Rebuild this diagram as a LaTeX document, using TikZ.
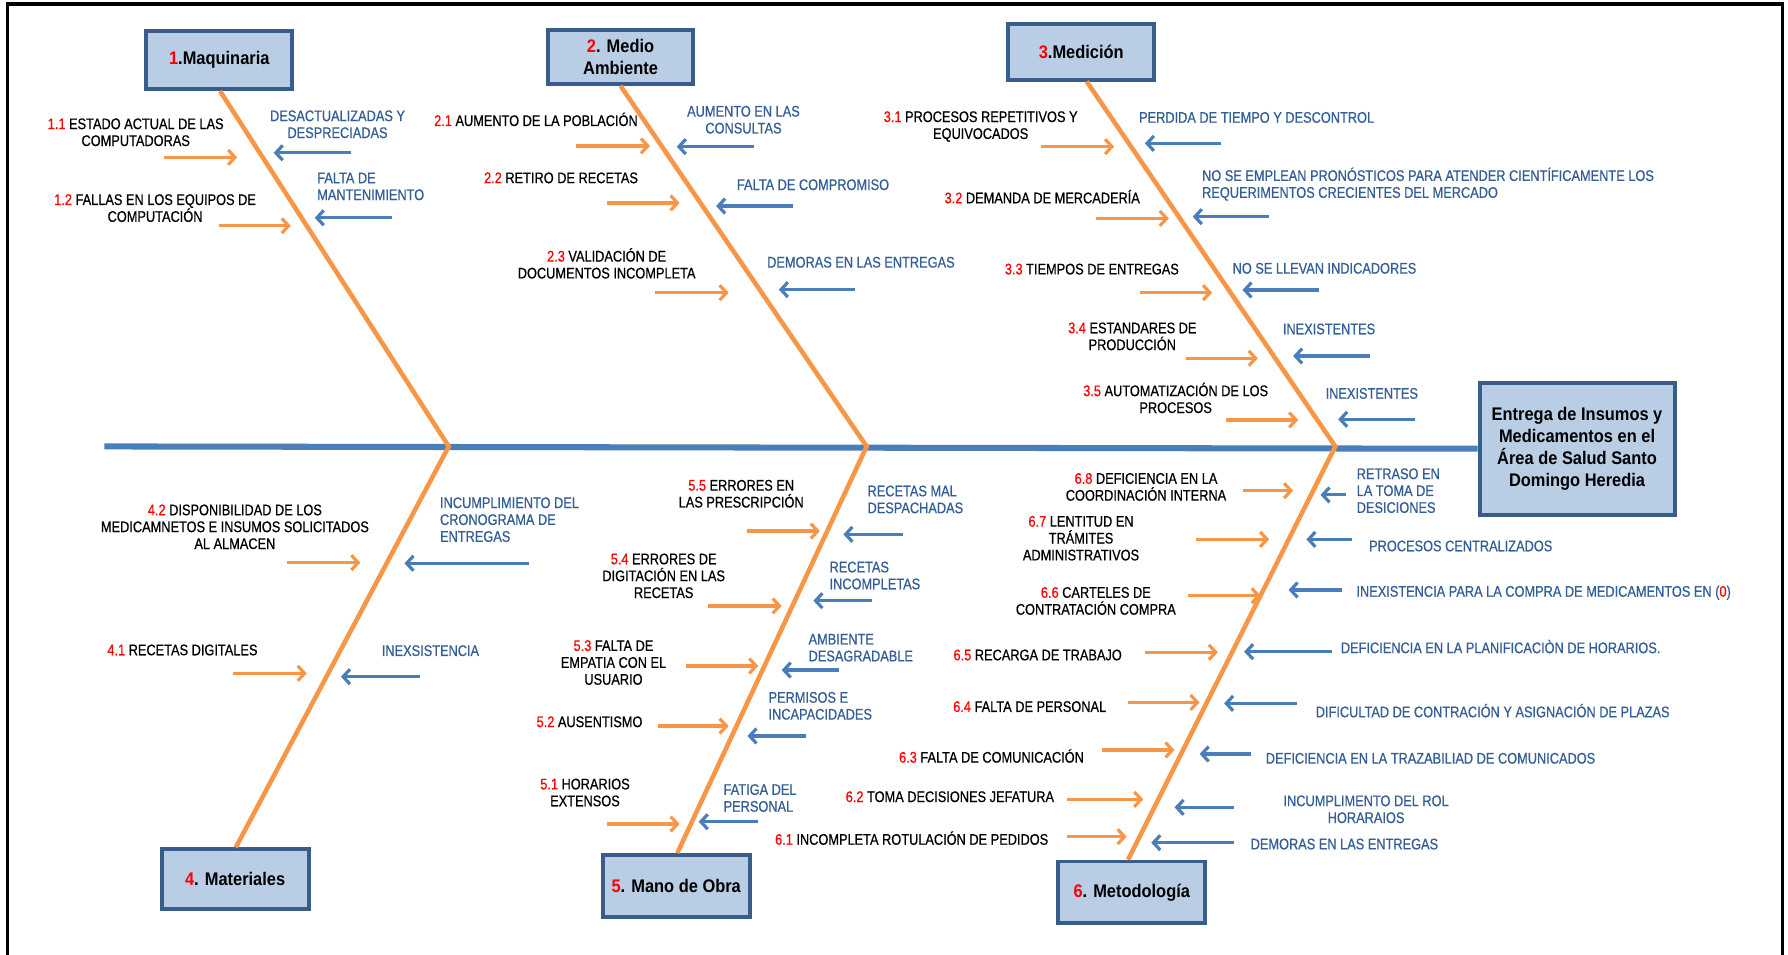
\documentclass[tikz,border=0pt]{standalone}
\usepackage{fontspec}
\usetikzlibrary{arrows.meta,calc}
\newfontfamily\lblfont[FakeStretch=0.83,FakeBold=0.6]{Liberation Sans}
\newfontfamily\hdrfont[FakeStretch=0.9]{Liberation Sans}
\definecolor{bone}{HTML}{F79646}
\definecolor{spine}{HTML}{4A7EBB}
\definecolor{subtxt}{RGB}{52,94,150}
\definecolor{boxfill}{HTML}{B9CDE5}
\definecolor{boxline}{HTML}{385D8A}
\definecolor{numred}{HTML}{FF0000}
\newcommand{\nr}[1]{\textcolor{numred}{#1}}
% cause arrow (orange, pointing right) and sub-cause arrow (blue, pointing left)
\newcommand{\carrow}[4]{\coordinate (#1s) at (#2,#4); \coordinate (#1e) at (#3,#4); \draw[causearrow] (#1s) -- (#1e);}
\newcommand{\sarrow}[4]{\coordinate (#1s) at (#2,#4); \coordinate (#1e) at (#3,#4); \draw[subarrow] (#1s) -- (#1e);}
\begin{document}
\begin{tikzpicture}[x=1pt,y=-1pt,
  cause/.style={font={\lblfont\fontsize{13.5}{14.8}\selectfont}, text=black, inner sep=0pt, align=center},
  sub/.style={cause, text=subtxt},
  subl/.style={sub, align=left, anchor=west},
  catbox/.style={draw=boxline, fill=boxfill, line width=3.4pt, inner sep=2pt, align=center,
    font={\hdrfont\bfseries\fontsize{16}{19.5}\selectfont}},
  bonestyle/.style={draw=bone, line width=4pt},
  spinestyle/.style={draw=spine, line width=5.3pt},
  causearrow/.style={draw=bone, line width=2.8pt, -{Straight Barb[length=6pt,width=13pt]}},
  subarrow/.style={draw=spine, line width=2.8pt, -{Straight Barb[length=6pt,width=13pt]}}]
\useasboundingbox (0,0) rectangle (1568,837);
\fill[white] (0,0) rectangle (1568,837);
% outer frame
\draw[line width=3pt] (6.7,3.5) rectangle (1563,900);

% category boxes and effect box
\node[catbox, minimum width=128pt, minimum height=51pt] (m1) at (192.3,52.7) {\nr{1}.Maquinaria};
\node[catbox, minimum width=127pt, minimum height=47pt] (m2) at (544.2,50.1) {\nr{2}. Medio\\Ambiente};
\node[catbox, minimum width=128pt, minimum height=49pt] (m3) at (948.2,45.3) {\nr{3}.Medición};
\node[catbox, minimum width=129pt, minimum height=52pt] (m4) at (206.2,770.8) {\nr{4}. Materiales};
\node[catbox, minimum width=129pt, minimum height=54pt] (m5) at (593,776.8) {\nr{5}. Mano de Obra};
\node[catbox, minimum width=129pt, minimum height=54pt] (m6) at (992.5,782.5) {\nr{6}. Metodología};
\node[catbox, minimum width=171pt, minimum height=116pt] (eff) at (1383,393.5)
  {Entrega de Insumos y\\Medicamentos en el\\Área de Salud Santo\\Domingo Heredia};

% spine and bones
\coordinate (sl) at (91.5,391.5);
\coordinate (j1) at (393.5,391.5);
\coordinate (j2) at (760,391.5);
\coordinate (j3) at (1171,391.5);
\draw[spinestyle] (sl) -- (eff.west);
\draw[bonestyle] ($(m1.south)+(0.7,0)$) -- (j1) -- ($(m4.north)+(0.6,0)$);
\draw[bonestyle] (m2.south) -- (j2) -- ($(m5.north)+(1,0)$);
\draw[bonestyle] ($(m3.south)+(4.8,0)$) -- (j3) -- ($(m6.north)+(-3.2,0)$);

% 1. Maquinaria
\node[cause] (c11) at (119,116) {\nr{1.1} ESTADO ACTUAL DE LAS\\COMPUTADORAS};
\node[cause] (c12) at (136,182.5) {\nr{1.2} FALLAS EN LOS EQUIPOS DE\\COMPUTACIÓN};
\node[sub] (s11) at (296,109) {DESACTUALIZADAS Y\\DESPRECIADAS};
\node[subl] (s12) at (278,163.5) {FALTA DE\\MANTENIMIENTO};
\carrow{a11}{144}{208}{138}
\carrow{a12}{192}{255}{198}
\sarrow{b11}{308}{240}{134}
\sarrow{b12}{344}{276}{191}

% 2. Medio Ambiente
\node[cause] (c21) at (470,104.7) {\nr{2.1} AUMENTO DE LA POBLACIÓN};
\node[cause] (c22) at (492,156) {\nr{2.2} RETIRO DE RECETAS};
\node[cause] (c23) at (532,231) {\nr{2.3} VALIDACIÓN DE\\DOCUMENTOS INCOMPLETA};
\node[sub] (s21) at (652,105) {AUMENTO EN LAS\\CONSULTAS};
\node[sub] (s22) at (713,162) {FALTA DE COMPROMISO};
\node[sub] (s23) at (755,230) {DEMORAS EN LAS ENTREGAS};
\carrow{a21}{505}{570}{128}
\carrow{a22}{532}{596}{178}
\carrow{a23}{574.5}{639}{256.7}
\sarrow{b21}{661}{593.5}{128.6}
\sarrow{b22}{695}{628}{180.7}
\sarrow{b23}{750}{683}{254}

% 3. Medición
\node[cause] (c31) at (860,111) {\nr{3.1} PROCESOS REPETITIVOS Y\\EQUIVOCADOS};
\node[cause] (c32) at (914,172.5) {\nr{3.2} DEMANDA DE MERCADERÍA};
\node[cause] (c33) at (957.5,236) {\nr{3.3} TIEMPOS DE ENTREGAS};
\node[cause] (c34) at (993,295) {\nr{3.4} ESTANDARES DE\\PRODUCCIÓN};
\node[cause] (c35) at (1031,349) {\nr{3.5} AUTOMATIZACIÓN DE LOS\\PROCESOS};
\node[sub] (s31) at (1102,103) {PERDIDA DE TIEMPO Y DESCONTROL};
\node[subl] (s32) at (1054,161.5) {NO SE EMPLEAN PRONÓSTICOS PARA ATENDER CIENTÍFICAMENTE LOS\\REQUERIMENTOS CRECIENTES DEL MERCADO};
\node[sub] (s33) at (1161.5,235.3) {NO SE LLEVAN INDICADORES};
\node[sub] (s34) at (1165.5,288.5) {INEXISTENTES};
\node[sub] (s35) at (1203,345) {INEXISTENTES};
\carrow{a31}{913}{977}{128.6}
\carrow{a32}{961}{1025}{191.5}
\carrow{a33}{1000}{1063}{256.7}
\carrow{a34}{1040}{1103}{314.2}
\carrow{a35}{1075}{1138.5}{368.3}
\sarrow{b31}{1071}{1004}{125.7}
\sarrow{b32}{1112.5}{1046}{190}
\sarrow{b33}{1157}{1089.6}{254.3}
\sarrow{b34}{1201.5}{1134}{312.2}
\sarrow{b35}{1241}{1173.5}{367.7}

% 4. Materiales
\node[cause] (c42) at (206,462) {\nr{4.2} DISPONIBILIDAD DE LOS\\MEDICAMNETOS E INSUMOS SOLICITADOS\\AL ALMACEN};
\node[cause] (c41) at (160,570) {\nr{4.1} RECETAS DIGITALES};
\node[subl] (s42) at (385.7,455.7) {INCUMPLIMIENTO DEL\\CRONOGRAMA DE\\ENTREGAS};
\node[sub] (s41) at (377.5,570.6) {INEXSISTENCIA};
\carrow{a42}{252}{316}{493.4}
\carrow{a41}{204.5}{269}{590.5}
\sarrow{b42}{464}{354.7}{494}
\sarrow{b41}{368}{299}{593.4}

% 5. Mano de Obra
\node[cause] (c55) at (650,433) {\nr{5.5} ERRORES EN\\LAS PRESCRIPCIÓN};
\node[cause] (c54) at (582,505) {\nr{5.4} ERRORES DE\\DIGITACIÓN EN LAS\\RECETAS};
\node[cause] (c53) at (538,581) {\nr{5.3} FALTA DE\\EMPATIA CON EL\\USUARIO};
\node[cause] (c52) at (517,633) {\nr{5.2} AUSENTISMO};
\node[cause] (c51) at (513,695) {\nr{5.1} HORARIOS\\EXTENSOS};
\node[subl] (s55) at (760.6,438) {RECETAS MAL\\DESPACHADAS};
\node[subl] (s54) at (727.3,504.7) {RECETAS\\INCOMPLETAS};
\node[subl] (s53) at (708.9,568) {AMBIENTE\\DESAGRADABLE};
\node[subl] (s52) at (673.8,619) {PERMISOS E\\INCAPACIDADES};
\node[subl] (s51) at (634.4,699.8) {FATIGA DEL\\PERSONAL};
\carrow{a55}{655.4}{719}{465.7}
\carrow{a54}{620.6}{685.5}{531.4}
\carrow{a53}{601.6}{665}{584}
\carrow{a52}{577}{639}{636.7}
\carrow{a51}{532}{596}{722.6}
\sarrow{b55}{792}{739.6}{468.6}
\sarrow{b54}{764.4}{713.3}{526.8}
\sarrow{b53}{736}{685.5}{587.6}
\sarrow{b52}{707}{655.5}{645.4}
\sarrow{b51}{664.6}{612.7}{720.6}

% 6. Metodología
\node[cause] (c68) at (1005,427) {\nr{6.8} DEFICIENCIA EN LA\\COORDINACIÓN INTERNA};
\node[cause] (c67) at (948,472) {\nr{6.7} LENTITUD EN\\TRÁMITES\\ADMINISTRATIVOS};
\node[cause] (c66) at (961,527) {\nr{6.6} CARTELES DE\\CONTRATACIÓN COMPRA};
\node[cause] (c65) at (910,574.4) {\nr{6.5} RECARGA DE TRABAJO};
\node[cause] (c64) at (903,619.7) {\nr{6.4} FALTA DE PERSONAL};
\node[cause] (c63) at (869.5,663) {\nr{6.3} FALTA DE COMUNICACIÓN};
\node[cause] (c62) at (833,698.7) {\nr{6.2} TOMA DECISIONES JEFATURA};
\node[cause] (c61) at (799.5,735) {\nr{6.1} INCOMPLETA ROTULACIÓN DE PEDIDOS};
\node[subl] (s68) at (1189.6,430.3) {RETRASO EN\\LA TOMA DE\\DESICIONES};
\node[sub] (s67) at (1281,478.8) {PROCESOS CENTRALIZADOS};
\node[sub] (s66) at (1353.7,519.8) {INEXISTENCIA PARA LA COMPRA DE MEDICAMENTOS EN (\nr{0})};
\node[sub] (s65) at (1316,567) {DEFICIENCIA EN LA PLANIFICACIÒN DE HORARIOS.};
\node[sub] (s64) at (1309,623.2) {DIFICULTAD DE CONTRACIÓN Y ASIGNACIÓN DE PLAZAS};
\node[sub] (s63) at (1254.5,665) {DEFICIENCIA EN LA TRAZABILIAD DE COMUNICADOS};
\node[sub] (s62) at (1198,709.7) {INCUMPLIMENTO DEL ROL\\HORARAIOS};
\node[sub] (s61) at (1179,740.2) {DEMORAS EN LAS ENTREGAS};
\carrow{a68}{1090}{1134}{430.3}
\carrow{a67}{1049}{1113}{473}
\carrow{a66}{1041.7}{1105.6}{522.4}
\carrow{a65}{1004}{1068}{572}
\carrow{a64}{989}{1052}{616}
\carrow{a63}{966}{1030}{657.7}
\carrow{a62}{935.7}{1002.6}{701}
\carrow{a61}{935.7}{988}{733.7}
\sarrow{b68}{1180.7}{1158}{434}
\sarrow{b67}{1186}{1145.6}{473}
\sarrow{b66}{1177}{1130}{517.4}
\sarrow{b65}{1167.8}{1091}{571.5}
\sarrow{b64}{1137.5}{1073.5}{616.8}
\sarrow{b63}{1097}{1052}{661.2}
\sarrow{b62}{1082}{1030}{708}
\sarrow{b61}{1082}{1009.6}{739}
\end{tikzpicture}
\end{document}
